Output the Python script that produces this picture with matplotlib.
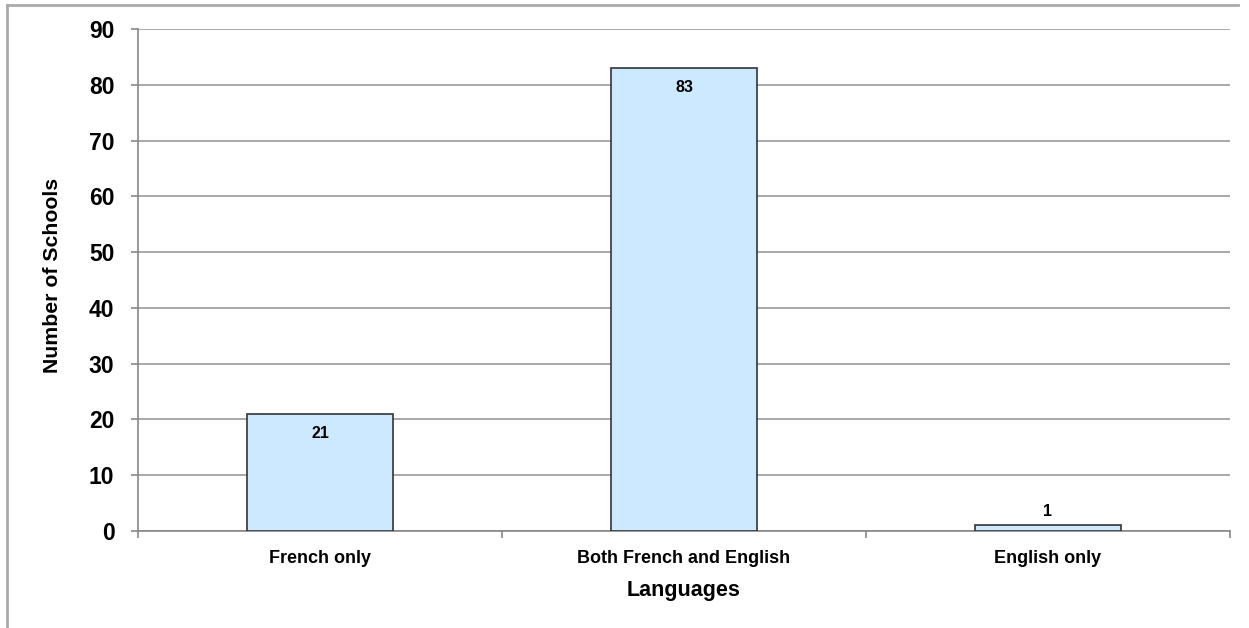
import matplotlib
matplotlib.use('Agg')
import matplotlib.pyplot as plt
from matplotlib.lines import Line2D

categories = ['French only', 'Both French and English', 'English only']
schools = [21, 83, 1]
y_ticks = [0, 10, 20, 30, 40, 50, 60, 70, 80, 90]

plt.rcParams['font.family'] = ['Liberation Sans', 'DejaVu Sans']
plt.rcParams['font.weight'] = 'bold'

W, H = 1249, 628
fig = plt.figure(figsize=(W / 100, H / 100), dpi=100)
ax = fig.add_axes([138 / W, 1 - 531 / H, (1230 - 138) / W, (531 - 29) / H])

x = list(range(len(categories)))
bars = ax.bar(x, schools, width=0.40, color='#cce9ff', edgecolor='#333333', linewidth=1.2, zorder=3)

for xi, v in zip(x, schools):
    if v > 5:
        ax.annotate(str(v), (xi, v), xytext=(0, -14), textcoords='offset points',
                    ha='center', va='center', fontsize=11.5, fontweight='bold', zorder=4)
    else:
        ax.annotate(str(v), (xi, v), xytext=(0, 10), textcoords='offset points',
                    ha='center', va='center', fontsize=11.5, fontweight='bold', zorder=4)

ax.set_xlim(-0.5, 2.5)
ax.set_ylim(0, 90)
ax.set_yticks(y_ticks)
ax.set_yticklabels([str(t) for t in y_ticks], fontsize=16.5, fontweight='bold')
ax.set_xticks(x)
ax.set_xticklabels(categories, fontsize=13, fontweight='bold')
ax.set_xticks([-0.5, 0.5, 1.5, 2.5], minor=True)
ax.tick_params(axis='x', which='major', length=0, pad=14)
ax.tick_params(axis='x', which='minor', length=5, color='#888888', width=1.2)
ax.tick_params(axis='y', length=5, color='#888888', width=1.2, pad=12)

ax.grid(axis='y', color='#999999', linewidth=1.2, zorder=0)
for s in ['top', 'right']:
    ax.spines[s].set_visible(False)
for s in ['left', 'bottom']:
    ax.spines[s].set_color('#888888')
    ax.spines[s].set_linewidth(1.2)

ax.set_ylabel('Number of Schools', fontsize=15.3, fontweight='bold', labelpad=19)
ax.yaxis.label.set_y(0.51)
ax.set_xlabel('Languages', fontsize=15.5, fontweight='bold', labelpad=9)

# outer chart frame (top and left edges visible)
fig.add_artist(Line2D([7 / W, 7 / W], [0, 1 - 5 / H], color='#aaaaaa', linewidth=2, transform=fig.transFigure))
fig.add_artist(Line2D([7 / W, 1238 / W], [1 - 5 / H, 1 - 5 / H], color='#aaaaaa', linewidth=2, transform=fig.transFigure))

fig.savefig('out.png', dpi=100)
